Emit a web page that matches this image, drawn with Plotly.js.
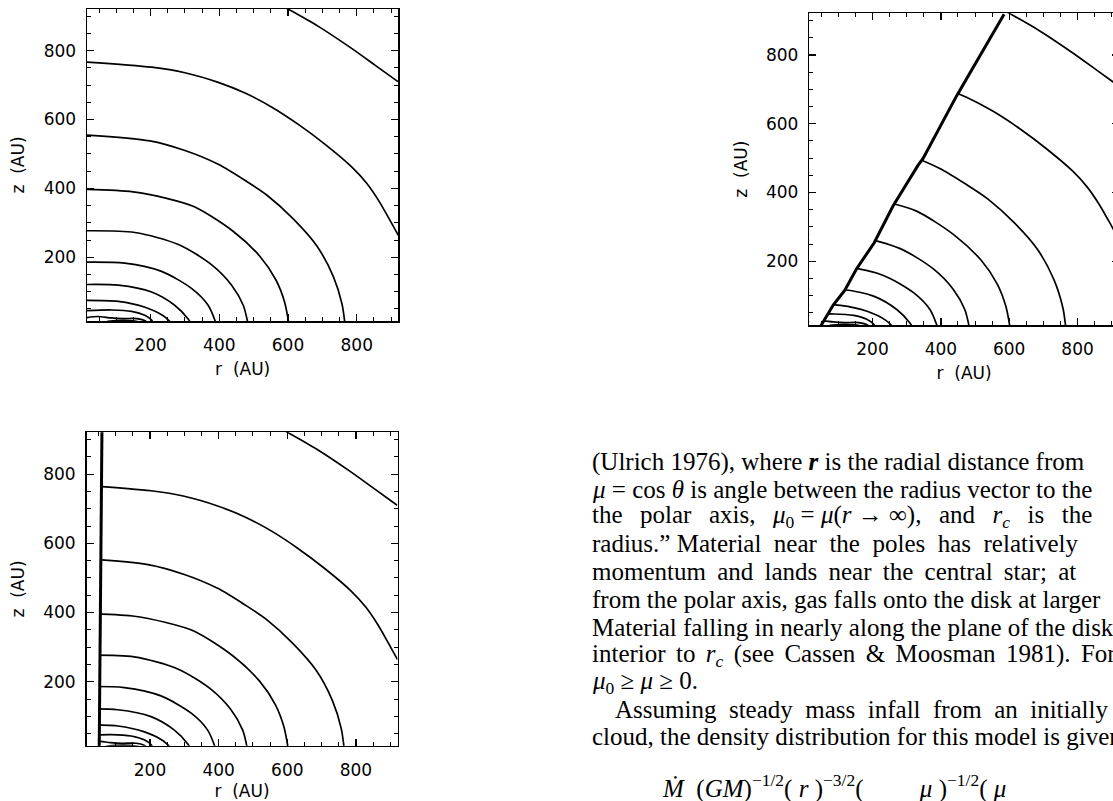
<!DOCTYPE html>
<html><head><meta charset="utf-8">
<script src="https://cdn.plot.ly/plotly-3.0.1.min.js"></script>
<style>html,body{margin:0;padding:0;overflow:hidden;background:#fff}#chart{width:1135px;height:801px}</style>
</head><body><div id="chart"></div>
<script>
// ---- contour levels (r, z in AU) ----
const levelA_r = [593, 686, 783, 856, 920];
const levelA_z = [925, 872, 808, 756, 710];
const levelB_r = [15, 203, 300, 397, 475, 553, 630, 708, 786, 829, 863, 892, 921];
const levelB_z = [767, 752, 736, 708, 677, 636, 586, 528, 462, 415, 366, 316, 264];
const levelC_r = [15, 198, 300, 397, 480, 538, 616, 684, 732, 757, 766];
const levelC_z = [555, 538, 510, 470, 420, 381, 311, 233, 144, 65, 4];
const levelD_r = [15, 149, 247, 329, 441, 518, 565, 590, 603];
const levelD_z = [397, 390, 371, 346, 275, 203, 134, 70, 4];
const levelE_r = [15, 154, 281, 378, 436, 470, 484];
const levelE_z = [277, 272, 237, 178, 119, 60, 4];
const levelF_r = [15, 125, 232, 320, 368, 392];
const levelF_z = [186, 183, 159, 109, 60, 4];
const levelG_r = [15, 106, 203, 271, 310, 319];
const levelG_z = [121, 119, 99, 60, 20, 4];
const levelH_r = [15, 106, 184, 237, 266];
const levelH_z = [75, 72, 55, 30, 4];
const levelI_r = [15, 87, 145, 183, 203, 210];
const levelI_z = [45, 47, 43, 32, 18, 4];
const levelJ_r = [15, 47, 85, 120, 160, 185, 195];
const levelJ_z = [25, 28, 24, 22, 22, 15, 4];
const levelK_r = [55, 70, 100, 140, 170, 180];
const levelK_z = [4, 12, 16, 16, 11, 4];
const levelL_r = [80, 95, 130, 160, 168];
const levelL_z = [4, 9, 11, 8, 4];
const levelM_r = [100, 115, 140, 155];
const levelM_z = [4, 7, 7, 4];

// cavity walls (top-right: conical cavity, bottom-left: polar cavity)
const cone_r = [46, 85, 119, 153, 205, 260, 333, 348, 446, 585];
const cone_z = [8, 73, 116, 178, 254, 361, 479, 499, 681, 918];
const polar_r = [52, 60];
const polar_z = [6, 926];

const tickVals = [200, 400, 600, 800];
const axisRange = [15, 921];

const levels = [
  [levelA_r, levelA_z], [levelB_r, levelB_z], [levelC_r, levelC_z], [levelD_r, levelD_z],
  [levelE_r, levelE_z], [levelF_r, levelF_z], [levelG_r, levelG_z], [levelH_r, levelH_z],
  [levelI_r, levelI_z], [levelJ_r, levelJ_z], [levelK_r, levelK_z], [levelL_r, levelL_z],
  [levelM_r, levelM_z]
];

const W = 1135, H = 801;
const traces = [];
const panels = [{xa: 'x', ya: 'y'}, {xa: 'x2', ya: 'y2'}, {xa: 'x3', ya: 'y3'}];
panels.forEach(p => {
  levels.forEach(l => {
    traces.push({type: 'scatter', mode: 'lines', x: l[0], y: l[1], xaxis: p.xa, yaxis: p.ya,
      line: {color: '#000', width: 1.7, shape: 'spline', smoothing: 0.8}, hoverinfo: 'skip', showlegend: false});
  });
});
traces.push({type: 'scatter', mode: 'lines', x: cone_r, y: cone_z, xaxis: 'x2', yaxis: 'y2',
  fill: 'tozerox', fillcolor: '#fff', line: {color: '#000', width: 3}, hoverinfo: 'skip', showlegend: false});
traces.push({type: 'scatter', mode: 'lines', x: polar_r, y: polar_z, xaxis: 'x3', yaxis: 'y3',
  fill: 'tozerox', fillcolor: '#fff', line: {color: '#000', width: 3}, hoverinfo: 'skip', showlegend: false});

const tickFont = {family: 'DejaVu Sans, sans-serif', size: 17, color: '#000'};
function axis(letter, dom, anchor, titleText) {
  return {
    domain: dom, anchor: anchor, range: axisRange.slice(), autorange: false,
    showgrid: false, zeroline: false, showline: true, linecolor: '#000', linewidth: 1.5,
    mirror: 'ticks', ticks: 'inside', ticklen: 7, tickwidth: 1.3, tickcolor: '#000',
    tickmode: 'array', tickvals: tickVals, tickfont: tickFont,
    minor: {ticks: 'inside', ticklen: 4, tickwidth: 1, tickcolor: '#000', tick0: 0, dtick: 50, showgrid: false},
    title: {text: titleText, font: tickFont, standoff: letter === 'x' ? 9 : 14},
    ticklabelstandoff: letter === 'x' ? 8 : 6,
    fixedrange: true
  };
}
function dx(a, b) { return [a / W, b / W]; }
function dy(top, bottom) { return [1 - bottom / H, 1 - top / H]; }

const serif = {family: 'Liberation Serif, Times New Roman, serif', size: 25, color: '#000'};
const g3 = '\u00a0\u00a0\u2009';
const g2 = '\u00a0\u2009';
const g8 = '\u00a0\u2006';
const textLines = [
  '(Ulrich 1976), where <b><i>r</i></b> is the radial distance from',
  '<i>μ</i> = cos <i>θ</i> is angle between the radius vector to the',
  ['the', 'polar', 'axis,', '<i>μ</i><sub>0</sub> = <i>μ</i>(<i>r</i> → ∞),', 'and', '<i>r<sub>c</sub></i>', 'is', 'the'].join(g3),
  ['radius.” Material', 'near', 'the', 'poles', 'has', 'relatively'].join('\u00a0\u00a0'),
  ['momentum', 'and', 'lands', 'near', 'the', 'central', 'star;', 'at'].join(g2),
  'from the polar axis, gas falls onto the disk at larger',
  'Material falling in nearly along the plane of the disk',
  ['interior', 'to', '<i>r<sub>c</sub></i>', '(see', 'Cassen', '&', 'Moosman', '1981).', 'For'].join(g8),
  '<i>μ</i><sub>0</sub> ≥ <i>μ</i> ≥ 0.',
  ['Assuming', 'steady', 'mass', 'infall', 'from', 'an', 'initially'].join('\u00a0\u00a0'),
  'cloud, the density distribution for this model is given'
];
const lineY = [461.7, 489, 516.7, 543.5, 571.7, 599, 627.7, 655, 682.7, 709, 736.7];
const lineX = [590, 590, 590, 590, 590, 590, 590, 590, 590, 613, 590];
const annotations = textLines.map((t, i) => ({
  xref: 'paper', yref: 'paper', x: lineX[i] / W, y: 1 - lineY[i] / H, xanchor: 'left', yanchor: 'middle',
  text: t, showarrow: false, font: serif, align: 'left'
}));
annotations.push({
  xref: 'paper', yref: 'paper', x: 660 / W, y: 1 - 786 / H, xanchor: 'left', yanchor: 'middle', showarrow: false,
  font: serif, align: 'left',
  text: '<i>Ṁ</i>\u00a0\u00a0(<i>GM</i>)<sup>−1/2</sup>(\u00a0<i>r</i>\u00a0)<sup>−3/2</sup>(\u00a0\u00a0\u00a0\u00a0\u00a0\u00a0\u00a0\u00a0\u00a0<i>μ</i>\u00a0)<sup>−1/2</sup>(\u00a0<i>μ</i>'
});

const layout = {
  width: W, height: H, autosize: false, paper_bgcolor: '#fff', plot_bgcolor: '#fff',
  margin: {l: 0, r: 0, t: 0, b: 0}, showlegend: false,
  xaxis: axis('x', dx(87, 398.3), 'y', 'r\u00a0\u00a0(AU)'),
  yaxis: axis('y', dy(9, 321), 'x', 'z\u00a0\u00a0(AU)'),
  xaxis2: axis('x', dx(809.3, 1118.9), 'y2', 'r\u00a0\u00a0(AU)'),
  yaxis2: axis('y', dy(13.3, 325), 'x2', 'z\u00a0\u00a0(AU)'),
  xaxis3: axis('x', dx(86.5, 397.5), 'y3', 'r\u00a0\u00a0(AU)'),
  yaxis3: axis('y', dy(432.3, 745.7), 'x3', 'z\u00a0\u00a0(AU)'),
  annotations: annotations
};
Plotly.newPlot('chart', traces, layout, {staticPlot: true, displayModeBar: false});
</script></body></html>
